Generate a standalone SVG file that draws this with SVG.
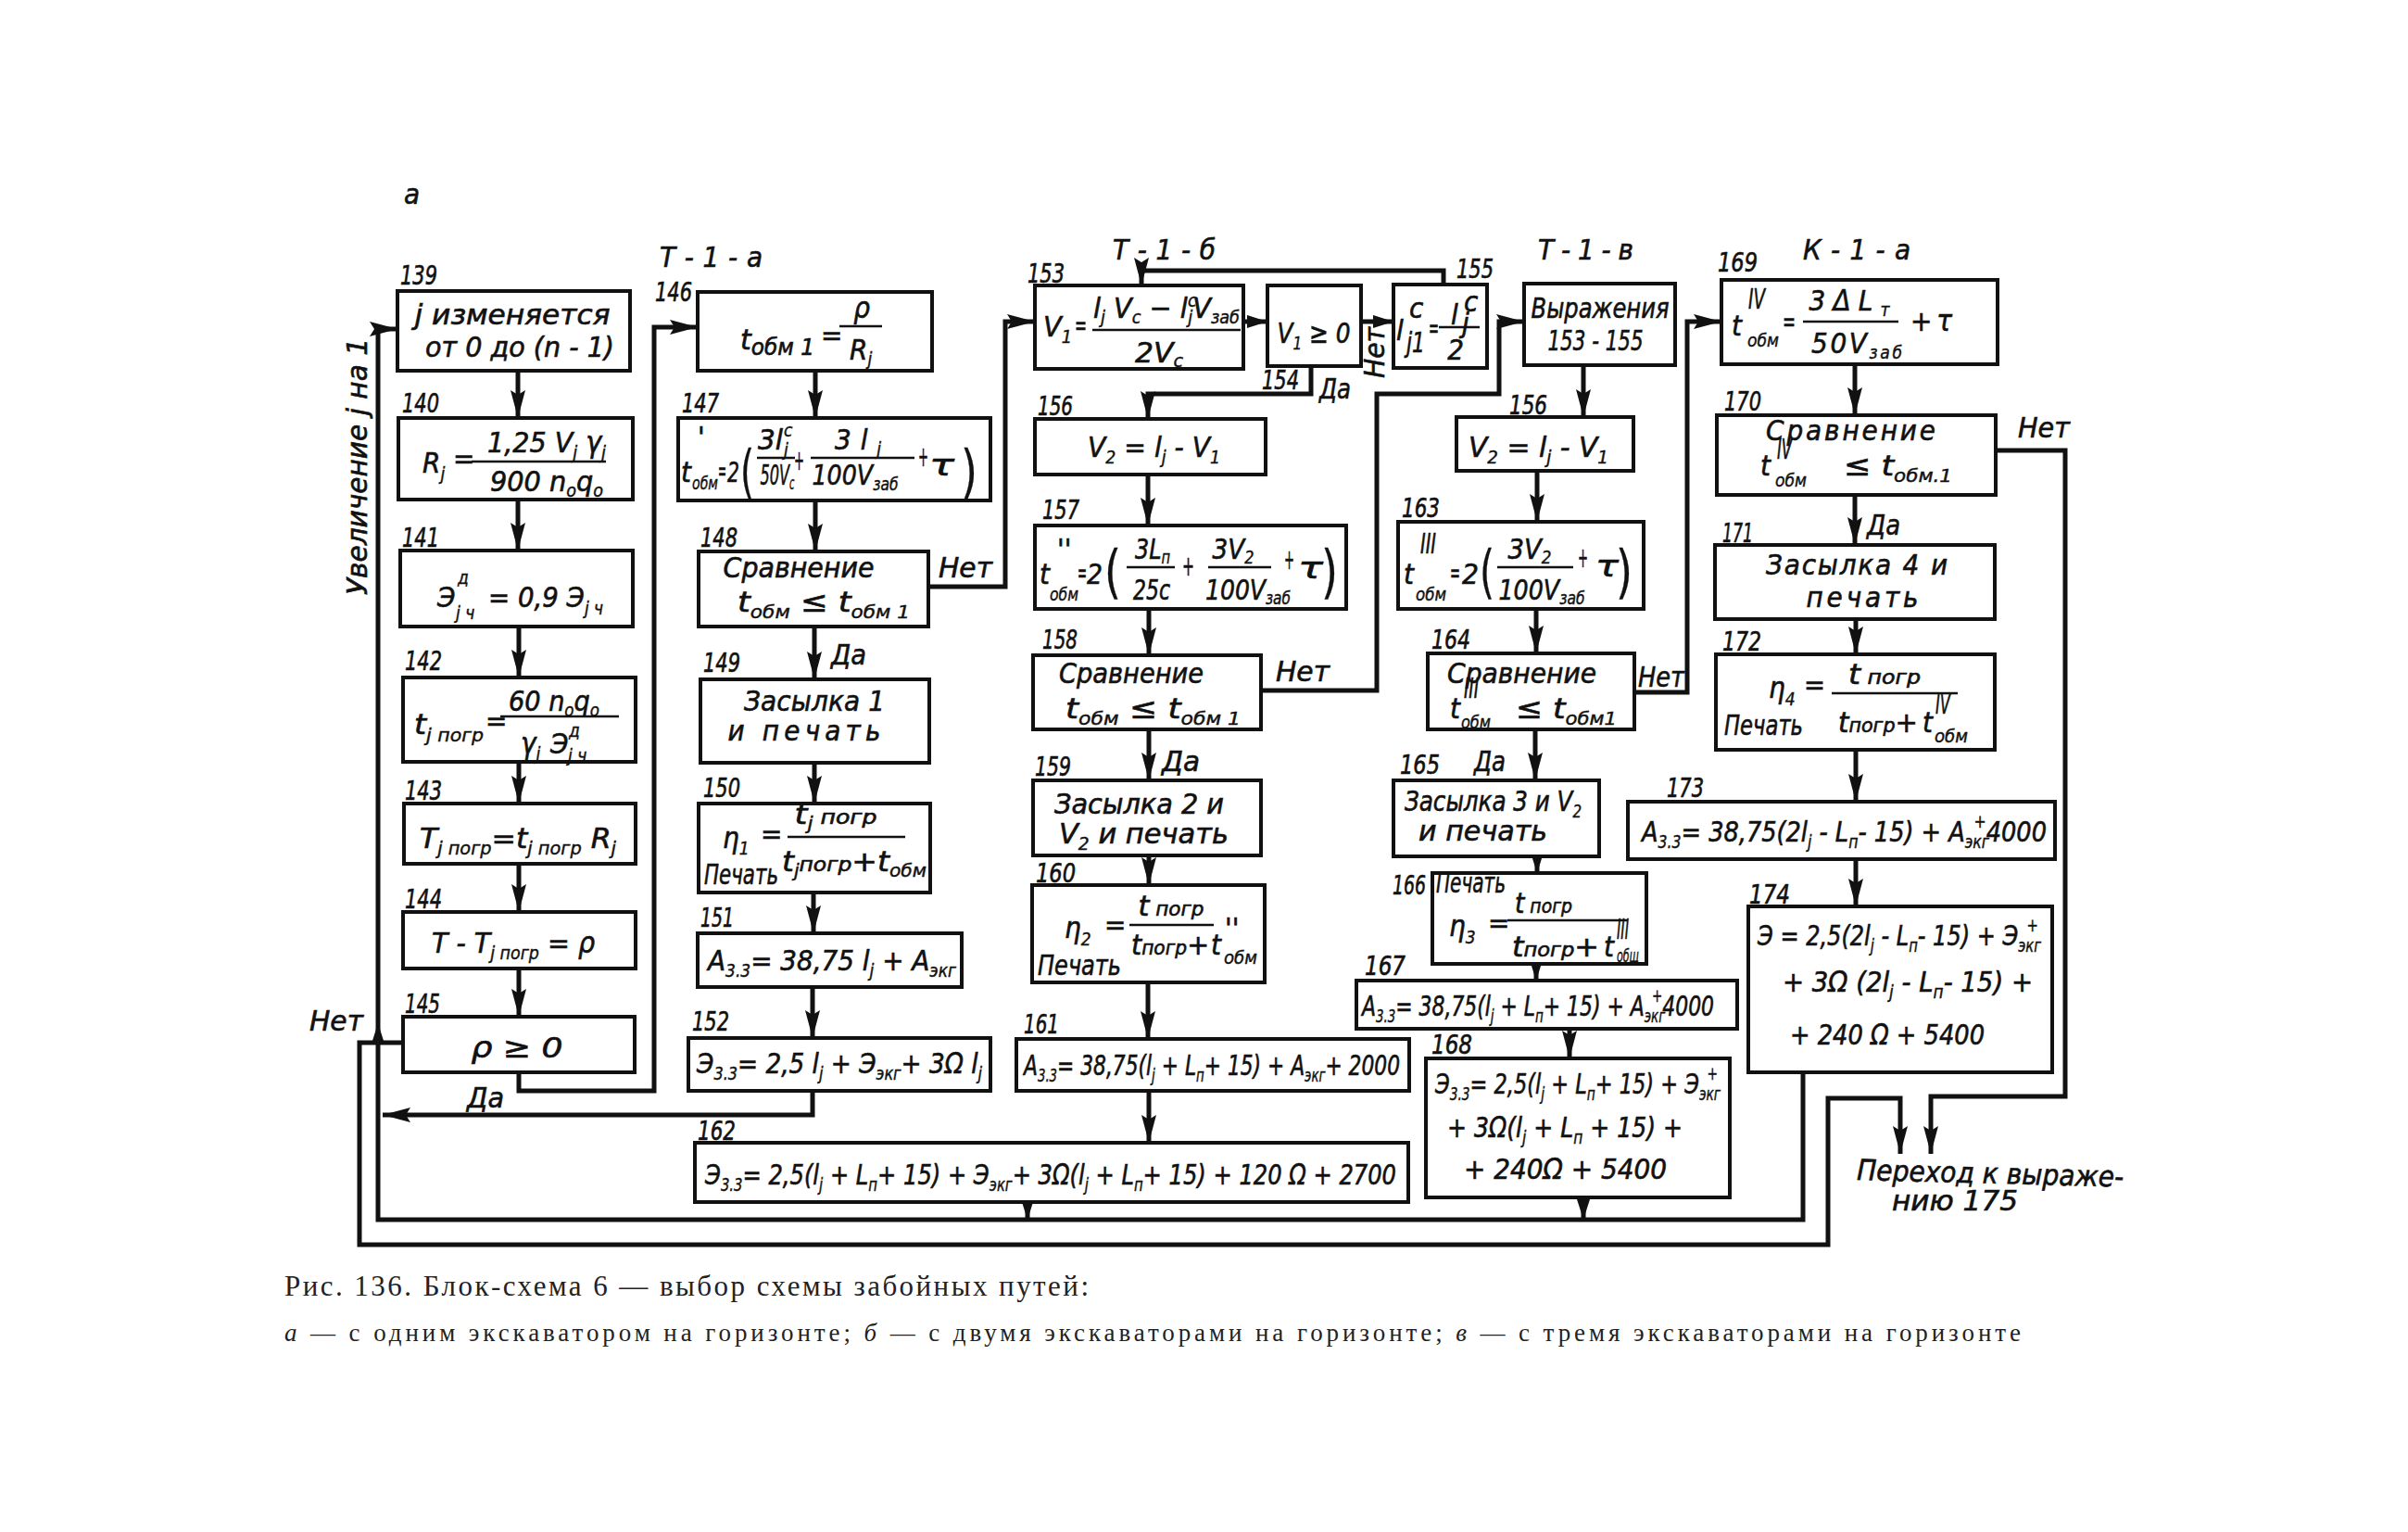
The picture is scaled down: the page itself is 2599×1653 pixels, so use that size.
<svg xmlns="http://www.w3.org/2000/svg" width="2599" height="1653" viewBox="0 0 2599 1653">
<defs>
<style>
.t{font-family:"DejaVu Sans Condensed","Liberation Sans Narrow","Liberation Sans",sans-serif;font-style:italic;font-size:31px;fill:#111;stroke:#111;stroke-width:0.6}
.s{font-size:19px;stroke-width:0.4}
.n{font-size:28px}
.m{text-anchor:middle}
.b{fill:#fff;stroke:#111;stroke-width:4}
.c{fill:none;stroke:#111;stroke-width:5}
.f{stroke:#111;stroke-width:2.5;fill:none}
.a{marker-end:url(#ah)}
.as{marker-end:url(#ahs)}
.p{font-size:62px;font-style:normal;stroke-width:0.3}
.cap{font-family:"Liberation Serif","DejaVu Serif",serif;fill:#222}
</style>
<marker id="ah" markerUnits="userSpaceOnUse" markerWidth="32" markerHeight="18" refX="30" refY="8" orient="auto"><path d="M0,0 L30,8 L0,16 L5,8 Z" fill="#111"/></marker>
<marker id="ahs" markerUnits="userSpaceOnUse" markerWidth="24" markerHeight="16" refX="22" refY="7" orient="auto"><path d="M0,0 L22,7 L0,14 Z" fill="#111"/></marker>
</defs>
<rect x="0" y="0" width="2599" height="1653" fill="#fff"/>

<g id="headers">
<text class="t" x="436" y="220" font-size="38">а</text>
<text class="t" x="712" y="288" textLength="111">Т - 1 - а</text>
<text class="t" x="1201" y="280" textLength="111">Т - 1 - б</text>
<text class="t" x="1660" y="280" textLength="103">Т - 1 - в</text>
<text class="t" x="1946" y="280" textLength="116">К - 1 - а</text>
<text class="t" transform="translate(396,642) rotate(-90)" font-size="30" textLength="277" lengthAdjust="spacingAndGlyphs">Увеличение j на 1</text>
</g>

<g id="connectors">
<path class="c a" d="M559,400V451"/>
<path class="c a" d="M559,539V594"/>
<path class="c a" d="M560,676V731"/>
<path class="c a" d="M560,822V867"/>
<path class="c a" d="M560,932V984"/>
<path class="c a" d="M560,1045V1097"/>
<path class="c a" d="M560,1157V1177H706V353H753"/>
<path class="c a" d="M435,1125H388V1343H1973V1185H2051V1245"/>
<path class="c a" d="M877,1177V1203H413"/>
<path class="c a" d="M1946,1157V1316H408V355H429"/>
<path class="c as" d="M1109,1297V1316"/>
<path class="c as" d="M1709,1292V1316"/>
<path d="M401,1126L408,1104L415,1126Z" fill="#111"/>
<path class="c a" d="M880,400V451"/>
<path class="c a" d="M880,540V595"/>
<path class="c a" d="M879,676V733"/>
<path class="c a" d="M879,823V867"/>
<path class="c a" d="M878,963V1007"/>
<path class="c a" d="M877,1065V1120"/>
<path class="c a" d="M1002,633H1085V347H1117"/>
<path class="c as" d="M1342,347H1368"/>
<path class="c as" d="M1469,347H1504"/>
<path class="c a" d="M1558,307V292H1232V308"/>
<path class="c a" d="M1415,395V425H1239V452"/>
<path class="c a" d="M1239,512V567"/>
<path class="c a" d="M1240,657V707"/>
<path class="c a" d="M1361,745H1486V425H1618V347H1645"/>
<path class="c a" d="M1240,787V842"/>
<path class="c a" d="M1240,923V955"/>
<path class="c a" d="M1239,1060V1121"/>
<path class="c a" d="M1240,1177V1233"/>
<path class="c a" d="M1709,394V450"/>
<path class="c a" d="M1659,508V563"/>
<path class="c a" d="M1658,657V705"/>
<path class="c a" d="M1657,787V842"/>
<path class="c as" d="M1659,924V942"/>
<path class="c as" d="M1658,1040V1058"/>
<path class="c a" d="M1694,1110V1142"/>
<path class="c a" d="M1764,747H1821V347H1858"/>
<path class="c a" d="M2002,393V448"/>
<path class="c a" d="M2002,534V588"/>
<path class="c a" d="M2003,668V706"/>
<path class="c a" d="M2003,809V865"/>
<path class="c a" d="M2003,927V978"/>
<path class="c a" d="M2154,486H2229V1183H2084V1245"/>
<text class="t" x="334" y="1112" font-size="28" textLength="58" lengthAdjust="spacingAndGlyphs">Нет</text>
<text class="t" x="504" y="1195" font-size="30" textLength="40" lengthAdjust="spacingAndGlyphs">Да</text>
<text class="t" x="1013" y="623" font-size="28" textLength="58" lengthAdjust="spacingAndGlyphs">Нет</text>
<text class="t" x="897" y="717" font-size="28" textLength="38" lengthAdjust="spacingAndGlyphs">Да</text>
<text class="t" transform="translate(1494,408) rotate(-90)" font-size="24" textLength="55" lengthAdjust="spacingAndGlyphs">Нет</text>
<text class="t" x="1424" y="430" font-size="28" textLength="34" lengthAdjust="spacingAndGlyphs">Да</text>
<text class="t" x="1377" y="735" font-size="28" textLength="58" lengthAdjust="spacingAndGlyphs">Нет</text>
<text class="t" x="1254" y="832" font-size="30" textLength="41" lengthAdjust="spacingAndGlyphs">Да</text>
<text class="t" x="1768" y="741" font-size="24" textLength="50" lengthAdjust="spacingAndGlyphs">Нет</text>
<text class="t" x="1591" y="832" font-size="28" textLength="34" lengthAdjust="spacingAndGlyphs">Да</text>
<text class="t" x="2178" y="472" font-size="28" textLength="56" lengthAdjust="spacingAndGlyphs">Нет</text>
<text class="t" x="2015" y="577" font-size="28" textLength="36" lengthAdjust="spacingAndGlyphs">Да</text>
</g>

<g id="n139">
<rect class="b" x="429" y="314" width="251" height="86"/>
<text class="t n" x="432" y="307" textLength="40" lengthAdjust="spacingAndGlyphs">139</text>
<text class="t m" x="553" y="350" font-size="29" textLength="211" lengthAdjust="spacingAndGlyphs">j изменяется</text>
<text class="t m" x="561" y="385" font-size="29" textLength="204" lengthAdjust="spacingAndGlyphs">от 0 до (n - 1)</text>
</g>

<g id="n140">
<rect class="b" x="430" y="451" width="253" height="88"/>
<text class="t n" x="434" y="445" textLength="40" lengthAdjust="spacingAndGlyphs">140</text>
<text class="t" x="456" y="510" font-size="34">R<tspan class="s" dy="8">j</tspan></text>
<text class="t" x="489" y="505">=</text>
<text class="t m" x="590" y="488" textLength="128" lengthAdjust="spacingAndGlyphs">1,25 V<tspan class="s" dy="7">j</tspan><tspan dy="-7"> γ</tspan><tspan class="s" dy="7">j</tspan></text>
<path class="f" d="M509,498H654"/>
<text class="t m" x="590" y="530" textLength="122" lengthAdjust="spacingAndGlyphs">900 n<tspan class="s" dy="6">o</tspan><tspan dy="-6">q</tspan><tspan class="s" dy="6">o</tspan></text>
</g>

<g id="n141">
<rect class="b" x="432" y="594" width="251" height="82"/>
<text class="t n" x="434" y="590" textLength="40" lengthAdjust="spacingAndGlyphs">141</text>
<text class="t" x="472" y="655" font-size="32">Э</text>
<text class="t s" x="494" y="630">д</text>
<text class="t s" x="492" y="668">j ч</text>
<text class="t" x="527" y="655" font-size="32" textLength="124" lengthAdjust="spacingAndGlyphs">= 0,9 Э<tspan class="s" dy="8">j ч</tspan></text>
</g>

<g id="n142">
<rect class="b" x="435" y="731" width="251" height="91"/>
<text class="t n" x="437" y="723" textLength="40" lengthAdjust="spacingAndGlyphs">142</text>
<text class="t" x="447" y="792" font-size="32" textLength="75" lengthAdjust="spacingAndGlyphs">t<tspan class="s" dy="8">j погр</tspan></text>
<text class="t" x="524" y="788">=</text>
<text class="t m" x="598" y="767" textLength="98" lengthAdjust="spacingAndGlyphs">60 n<tspan class="s" dy="6">o</tspan><tspan dy="-6">q</tspan><tspan class="s" dy="6">o</tspan></text>
<path class="f" d="M540,773H668"/>
<text class="t" x="562" y="813">γ<tspan class="s" dy="7">j</tspan></text>
<text class="t" x="594" y="813">Э</text>
<text class="t s" x="614" y="795">д</text>
<text class="t s" x="613" y="822">j ч</text>
</g>

<g id="n143">
<rect class="b" x="436" y="867" width="250" height="65"/>
<text class="t n" x="437" y="863" textLength="40" lengthAdjust="spacingAndGlyphs">143</text>
<text class="t" x="453" y="915" font-size="32" textLength="212" lengthAdjust="spacingAndGlyphs">T<tspan class="s" dy="7">j погр</tspan><tspan dy="-7">=t</tspan><tspan class="s" dy="7">j погр</tspan><tspan dy="-7"> R</tspan><tspan class="s" dy="7">j</tspan></text>
</g>

<g id="n144">
<rect class="b" x="435" y="984" width="251" height="61"/>
<text class="t n" x="437" y="980" textLength="40" lengthAdjust="spacingAndGlyphs">144</text>
<text class="t" x="466" y="1028" font-size="32" textLength="176" lengthAdjust="spacingAndGlyphs">T - T<tspan class="s" dy="7">j погр</tspan><tspan dy="-7"> = ρ</tspan></text>
</g>

<g id="n145">
<rect class="b" x="435" y="1097" width="250" height="60"/>
<text class="t n" x="437" y="1093" textLength="38" lengthAdjust="spacingAndGlyphs">145</text>
<text class="t m" x="558" y="1141" font-size="34" textLength="99" lengthAdjust="spacingAndGlyphs">ρ  ≥  0</text>
</g>

<g id="n146">
<rect class="b" x="753" y="315" width="253" height="85"/>
<text class="t n" x="707" y="325" textLength="40" lengthAdjust="spacingAndGlyphs">146</text>
<text class="t" x="799" y="377" font-size="40" textLength="80" lengthAdjust="spacingAndGlyphs">t<tspan font-size="24" dy="6">обм 1</tspan></text>
<text class="t" x="886" y="372">=</text>
<text class="t m" x="930" y="343" font-size="34">ρ</text>
<path class="f" d="M906,352H952"/>
<text class="t" x="917" y="388" font-size="32">R<tspan class="s" dy="6">j</tspan></text>
</g>

<g id="n147">
<rect class="b" x="732" y="451" width="337" height="89"/>
<text class="t n" x="736" y="445" textLength="40" lengthAdjust="spacingAndGlyphs">147</text>
<text class="t" x="735" y="520" font-size="34">t</text>
<text class="t" x="753" y="482" font-size="22">'</text>
<text class="t s" x="747" y="528" textLength="28" lengthAdjust="spacingAndGlyphs">обм</text>
<text class="t" x="775" y="518" font-size="20" textLength="9" lengthAdjust="spacingAndGlyphs">=</text>
<text class="t" x="785" y="520" textLength="13" lengthAdjust="spacingAndGlyphs">2</text>
<text class="t p" x="799" y="530" textLength="15" lengthAdjust="spacingAndGlyphs">(</text>
<text class="t" x="818" y="485" font-size="28" textLength="27" lengthAdjust="spacingAndGlyphs">3l</text>
<text class="t s" x="846" y="471" font-size="16">c</text>
<text class="t s" x="846" y="492" font-size="16">j</text>
<path class="f" d="M817,494H858"/>
<text class="t m" x="839" y="523" font-size="28" textLength="37" lengthAdjust="spacingAndGlyphs">50V<tspan class="s" dy="5">c</tspan></text>
<text class="t" x="857" y="507" font-size="22" textLength="11" lengthAdjust="spacingAndGlyphs">+</text>
<text class="t m" x="926" y="485" font-size="30" textLength="50" lengthAdjust="spacing">3l<tspan class="s" dy="6">j</tspan></text>
<path class="f" d="M875,494H987"/>
<text class="t m" x="923" y="523" font-size="28" textLength="93" lengthAdjust="spacingAndGlyphs">100V<tspan class="s" dy="6">заб</tspan></text>
<text class="t" x="991" y="503" font-size="22" textLength="11" lengthAdjust="spacingAndGlyphs">+</text>
<text class="t" x="1003" y="513" font-size="34" textLength="27" lengthAdjust="spacingAndGlyphs">τ</text>
<text class="t p" x="1037" y="530" textLength="18" lengthAdjust="spacingAndGlyphs">)</text>
</g>

<g id="n148">
<rect class="b" x="754" y="595" width="248" height="81"/>
<text class="t n" x="756" y="590" textLength="40" lengthAdjust="spacingAndGlyphs">148</text>
<text class="t m" x="862" y="623" font-size="29" textLength="163" lengthAdjust="spacingAndGlyphs">Сравнение</text>
<text class="t" x="796" y="660" font-size="32" textLength="186" lengthAdjust="spacingAndGlyphs">t<tspan class="s" dy="7">обм</tspan><tspan dy="-7"> ≤ t</tspan><tspan class="s" dy="7">обм 1</tspan></text>
</g>

<g id="n149">
<rect class="b" x="756" y="733" width="247" height="90"/>
<text class="t n" x="759" y="725" textLength="40" lengthAdjust="spacingAndGlyphs">149</text>
<text class="t m" x="879" y="767" font-size="29" textLength="152">Засылка 1</text>
<text class="t m" x="868" y="799" font-size="29" textLength="165">и печать</text>
</g>

<g id="n150">
<rect class="b" x="754" y="867" width="250" height="96"/>
<text class="t n" x="759" y="860" textLength="40" lengthAdjust="spacingAndGlyphs">150</text>
<text class="t" x="780" y="915" font-size="36">η<tspan class="s" dy="7">1</tspan></text>
<text class="t" x="821" y="910" font-size="26">=</text>
<text class="t m" x="902" y="889" textLength="89" lengthAdjust="spacingAndGlyphs">t<tspan class="s" dy="6">j</tspan><tspan dy="-6" font-size="22"> погр</tspan></text>
<path class="f" d="M850,903H977"/>
<text class="t" x="844" y="940" textLength="156" lengthAdjust="spacingAndGlyphs">t<tspan class="s" dy="6">j</tspan><tspan dy="-6" font-size="22">погр</tspan>+t<tspan class="s" dy="6">обм</tspan></text>
<text class="t" x="760" y="954" font-size="22" textLength="80" lengthAdjust="spacingAndGlyphs">Печать</text>
</g>

<g id="n151">
<rect class="b" x="753" y="1007" width="285" height="58"/>
<text class="t n" x="756" y="1000" textLength="36" lengthAdjust="spacingAndGlyphs">151</text>
<text class="t" x="764" y="1047" textLength="268" lengthAdjust="spacingAndGlyphs">A<tspan class="s" dy="7">3.3</tspan><tspan dy="-7">= 38,75 l</tspan><tspan class="s" dy="7">j</tspan><tspan dy="-7"> + A</tspan><tspan class="s" dy="7">экг</tspan></text>
</g>

<g id="n152">
<rect class="b" x="743" y="1120" width="326" height="57"/>
<text class="t n" x="747" y="1112" textLength="40" lengthAdjust="spacingAndGlyphs">152</text>
<text class="t" x="752" y="1158" textLength="308" lengthAdjust="spacingAndGlyphs">Э<tspan class="s" dy="7">3.3</tspan><tspan dy="-7">= 2,5 l</tspan><tspan class="s" dy="7">j</tspan><tspan dy="-7"> + Э</tspan><tspan class="s" dy="7">экг</tspan><tspan dy="-7">+ 3Ω l</tspan><tspan class="s" dy="7">j</tspan></text>
</g>

<g id="n153">
<rect class="b" x="1117" y="308" width="225" height="90"/>
<text class="t n" x="1109" y="305" textLength="40" lengthAdjust="spacingAndGlyphs">153</text>
<text class="t" x="1126" y="363" font-size="34" textLength="31" lengthAdjust="spacingAndGlyphs">V<tspan class="s" dy="7">1</tspan></text>
<text class="t" x="1160" y="361" font-size="24" textLength="13" lengthAdjust="spacingAndGlyphs">=</text>
<text class="t" x="1180" y="343" textLength="158" lengthAdjust="spacingAndGlyphs">l<tspan class="s" dy="6">j</tspan><tspan dy="-6"> V</tspan><tspan class="s" dy="6">c</tspan><tspan dy="-6"> − l</tspan><tspan class="s" dy="-12">c</tspan><tspan class="s" dx="-9" dy="18">j</tspan><tspan dy="-6">V</tspan><tspan class="s" dy="6">заб</tspan></text>
<path class="f" d="M1179,356H1339"/>
<text class="t m" x="1251" y="391" textLength="52" lengthAdjust="spacingAndGlyphs">2V<tspan class="s" dy="5">c</tspan></text>
</g>

<g id="n154">
<rect class="b" x="1368" y="308" width="101" height="87"/>
<text class="t n" x="1362" y="420" textLength="40" lengthAdjust="spacingAndGlyphs">154</text>
<text class="t m" x="1418" y="370" font-size="34" textLength="79" lengthAdjust="spacingAndGlyphs">V<tspan class="s" dy="7">1</tspan><tspan dy="-7"> ≥ 0</tspan></text>
</g>

<g id="n155">
<rect class="b" x="1504" y="307" width="101" height="90"/>
<text class="t n" x="1572" y="300" textLength="40" lengthAdjust="spacingAndGlyphs">155</text>
<text class="t" x="1507" y="367" font-size="32">l</text>
<text class="t" x="1521" y="343" font-size="17">c</text>
<text class="t" x="1518" y="380" font-size="16" textLength="20" lengthAdjust="spacingAndGlyphs">j1</text>
<text class="t" x="1542" y="364" font-size="22" textLength="11" lengthAdjust="spacingAndGlyphs">=</text>
<text class="t" x="1566" y="350" font-size="28">l</text>
<text class="t" x="1580" y="336" font-size="15">c</text>
<text class="t" x="1578" y="359" font-size="13">j</text>
<path class="f" d="M1553,353H1597"/>
<text class="t m" x="1571" y="388">2</text>
</g>

<g id="n156">
<rect class="b" x="1117" y="452" width="249" height="60"/>
<text class="t n" x="1120" y="448" textLength="38" lengthAdjust="spacingAndGlyphs">156</text>
<text class="t" x="1174" y="493" font-size="34" textLength="143" lengthAdjust="spacingAndGlyphs">V<tspan class="s" dy="7">2</tspan><tspan dy="-7"> = l</tspan><tspan class="s" dy="7">j</tspan><tspan dy="-7"> - V</tspan><tspan class="s" dy="7">1</tspan></text>
</g>

<g id="n157">
<rect class="b" x="1117" y="567" width="336" height="90"/>
<text class="t n" x="1125" y="560" textLength="40" lengthAdjust="spacingAndGlyphs">157</text>
<text class="t" x="1122" y="630" font-size="34">t</text>
<text class="t" x="1141" y="603" font-size="20">''</text>
<text class="t s" x="1133" y="648" textLength="31" lengthAdjust="spacingAndGlyphs">обм</text>
<text class="t" x="1163" y="628" font-size="20" textLength="10" lengthAdjust="spacingAndGlyphs">=</text>
<text class="t" x="1173" y="630" textLength="17" lengthAdjust="spacingAndGlyphs">2</text>
<text class="t p" x="1192" y="638" textLength="18" lengthAdjust="spacingAndGlyphs">(</text>
<text class="t m" x="1244" y="603" font-size="28" textLength="38" lengthAdjust="spacingAndGlyphs">3L<tspan class="s" dy="5">п</tspan></text>
<path class="f" d="M1216,612H1268"/>
<text class="t m" x="1243" y="647" font-size="28" textLength="40" lengthAdjust="spacingAndGlyphs">25c</text>
<text class="t" x="1276" y="621" font-size="22" textLength="13" lengthAdjust="spacingAndGlyphs">+</text>
<text class="t m" x="1331" y="603" font-size="28" textLength="45" lengthAdjust="spacingAndGlyphs">3V<tspan class="s" dy="5">2</tspan></text>
<path class="f" d="M1304,612H1372"/>
<text class="t m" x="1347" y="647" font-size="28" textLength="92" lengthAdjust="spacingAndGlyphs">100V<tspan class="s" dy="5">заб</tspan></text>
<text class="t" x="1386" y="614" font-size="20" textLength="11" lengthAdjust="spacingAndGlyphs">+</text>
<text class="t" x="1401" y="624" font-size="34" textLength="27" lengthAdjust="spacingAndGlyphs">τ</text>
<text class="t p" x="1426" y="638" textLength="18" lengthAdjust="spacingAndGlyphs">)</text>
</g>

<g id="n158">
<rect class="b" x="1115" y="707" width="246" height="80"/>
<text class="t n" x="1125" y="700" textLength="38" lengthAdjust="spacingAndGlyphs">158</text>
<text class="t" x="1143" y="737" font-size="29" textLength="156" lengthAdjust="spacingAndGlyphs">Сравнение</text>
<text class="t" x="1150" y="775" font-size="34" textLength="189" lengthAdjust="spacingAndGlyphs">t<tspan class="s" dy="7">обм</tspan><tspan dy="-7"> ≤ t</tspan><tspan class="s" dy="7">обм 1</tspan></text>
</g>

<g id="n159">
<rect class="b" x="1115" y="842" width="246" height="81"/>
<text class="t n" x="1117" y="837" textLength="39" lengthAdjust="spacingAndGlyphs">159</text>
<text class="t" x="1138" y="878" textLength="183" lengthAdjust="spacingAndGlyphs">Засылка 2 и</text>
<text class="t" x="1143" y="910" textLength="183" lengthAdjust="spacingAndGlyphs">V<tspan class="s" dy="7">2</tspan><tspan dy="-7"> и печать</tspan></text>
</g>

<g id="n160">
<rect class="b" x="1114" y="955" width="251" height="105"/>
<text class="t n" x="1118" y="952" textLength="43" lengthAdjust="spacingAndGlyphs">160</text>
<text class="t" x="1149" y="1012" font-size="36">η<tspan class="s" dy="8">2</tspan></text>
<text class="t" x="1192" y="1008" font-size="26">=</text>
<text class="t m" x="1264" y="988" textLength="71" lengthAdjust="spacingAndGlyphs">t<tspan font-size="22"> погр</tspan></text>
<path class="f" d="M1219,998H1310"/>
<text class="t" x="1221" y="1030" textLength="84" lengthAdjust="spacingAndGlyphs">t<tspan font-size="22">погр</tspan>+</text>
<text class="t" x="1307" y="1030">t</text>
<text class="t" x="1322" y="1012" font-size="18">''</text>
<text class="t s" x="1321" y="1040" textLength="36" lengthAdjust="spacingAndGlyphs">обм</text>
<text class="t" x="1120" y="1052" font-size="24" textLength="90" lengthAdjust="spacingAndGlyphs">Печать</text>
</g>

<g id="n161">
<rect class="b" x="1097" y="1121" width="424" height="56"/>
<text class="t n" x="1105" y="1115" textLength="38" lengthAdjust="spacingAndGlyphs">161</text>
<text class="t" x="1105" y="1160" textLength="406" lengthAdjust="spacingAndGlyphs">A<tspan class="s" dy="7">3.3</tspan><tspan dy="-7">= 38,75(l</tspan><tspan class="s" dy="7">j</tspan><tspan dy="-7"> + L</tspan><tspan class="s" dy="7">п</tspan><tspan dy="-7">+ 15) + A</tspan><tspan class="s" dy="7">экг</tspan><tspan dy="-7">+ 2000</tspan></text>
</g>

<g id="n162">
<rect class="b" x="750" y="1233" width="770" height="64"/>
<text class="t n" x="753" y="1230" textLength="41" lengthAdjust="spacingAndGlyphs">162</text>
<text class="t" x="761" y="1278" textLength="746" lengthAdjust="spacingAndGlyphs">Э<tspan class="s" dy="7">3.3</tspan><tspan dy="-7">= 2,5(l</tspan><tspan class="s" dy="7">j</tspan><tspan dy="-7"> + L</tspan><tspan class="s" dy="7">п</tspan><tspan dy="-7">+ 15) + Э</tspan><tspan class="s" dy="7">экг</tspan><tspan dy="-7">+ 3Ω(l</tspan><tspan class="s" dy="7">j</tspan><tspan dy="-7"> + L</tspan><tspan class="s" dy="7">п</tspan><tspan dy="-7">+ 15) + 120 Ω + 2700</tspan></text>
</g>

<g id="n153_155">
<rect class="b" x="1645" y="306" width="163" height="88"/>
<text class="t m" x="1727" y="343" font-size="28" textLength="149" lengthAdjust="spacingAndGlyphs">Выражения</text>
<text class="t m" x="1722" y="378" font-size="28" textLength="103" lengthAdjust="spacingAndGlyphs">153 - 155</text>
</g>

<g id="n156b">
<rect class="b" x="1572" y="450" width="191" height="58"/>
<text class="t n" x="1629" y="447" textLength="41" lengthAdjust="spacingAndGlyphs">156</text>
<text class="t" x="1585" y="493" font-size="34" textLength="151" lengthAdjust="spacingAndGlyphs">V<tspan class="s" dy="7">2</tspan><tspan dy="-7"> = l</tspan><tspan class="s" dy="7">j</tspan><tspan dy="-7"> - V</tspan><tspan class="s" dy="7">1</tspan></text>
</g>

<g id="n163">
<rect class="b" x="1509" y="563" width="265" height="94"/>
<text class="t n" x="1513" y="558" textLength="41" lengthAdjust="spacingAndGlyphs">163</text>
<text class="t" x="1515" y="630" font-size="34">t</text>
<text class="t" x="1533" y="597" font-size="15" textLength="17" lengthAdjust="spacingAndGlyphs">III</text>
<text class="t s" x="1528" y="648" textLength="33" lengthAdjust="spacingAndGlyphs">обм</text>
<text class="t" x="1565" y="628" font-size="20" textLength="11" lengthAdjust="spacingAndGlyphs">=</text>
<text class="t" x="1578" y="630" textLength="18" lengthAdjust="spacingAndGlyphs">2</text>
<text class="t p" x="1597" y="638" textLength="16" lengthAdjust="spacingAndGlyphs">(</text>
<text class="t m" x="1651" y="603" font-size="28" textLength="47" lengthAdjust="spacingAndGlyphs">3V<tspan class="s" dy="5">2</tspan></text>
<path class="f" d="M1616,612H1698"/>
<text class="t m" x="1664" y="647" font-size="28" textLength="93" lengthAdjust="spacingAndGlyphs">100V<tspan class="s" dy="5">заб</tspan></text>
<text class="t" x="1703" y="612" font-size="20" textLength="11" lengthAdjust="spacingAndGlyphs">+</text>
<text class="t" x="1722" y="622" font-size="34" textLength="25" lengthAdjust="spacingAndGlyphs">τ</text>
<text class="t p" x="1744" y="638" textLength="18" lengthAdjust="spacingAndGlyphs">)</text>
</g>

<g id="n164">
<rect class="b" x="1541" y="705" width="223" height="82"/>
<text class="t n" x="1545" y="700" textLength="42" lengthAdjust="spacingAndGlyphs">164</text>
<text class="t" x="1562" y="737" font-size="29" textLength="161" lengthAdjust="spacingAndGlyphs">Сравнение</text>
<text class="t" x="1565" y="775" font-size="34">t</text>
<text class="t" x="1580" y="753" font-size="15" textLength="16" lengthAdjust="spacingAndGlyphs">III</text>
<text class="t s" x="1577" y="786" textLength="32" lengthAdjust="spacingAndGlyphs">обм</text>
<text class="t" x="1636" y="775" font-size="34" textLength="109" lengthAdjust="spacingAndGlyphs">≤ t<tspan class="s" dy="7">обм1</tspan></text>
</g>

<g id="n165">
<rect class="b" x="1504" y="842" width="222" height="82"/>
<text class="t n" x="1511" y="835" textLength="43" lengthAdjust="spacingAndGlyphs">165</text>
<text class="t" x="1516" y="875" textLength="191" lengthAdjust="spacingAndGlyphs">Засылка 3 и V<tspan class="s" dy="7">2</tspan></text>
<text class="t" x="1531" y="907" textLength="139" lengthAdjust="spacingAndGlyphs">и печать</text>
</g>

<g id="n166">
<rect class="b" x="1546" y="942" width="231" height="98"/>
<text class="t n" x="1503" y="965" textLength="36" lengthAdjust="spacingAndGlyphs">166</text>
<text class="t" x="1550" y="963" font-size="24" textLength="75" lengthAdjust="spacingAndGlyphs">Печать</text>
<text class="t" x="1635" y="985" textLength="62" lengthAdjust="spacingAndGlyphs">t<tspan font-size="22"> погр</tspan></text>
<text class="t" x="1564" y="1010" font-size="36">η<tspan class="s" dy="8">3</tspan></text>
<text class="t" x="1606" y="1006" font-size="26">=</text>
<path class="f" d="M1627,993H1757"/>
<text class="t" x="1632" y="1032" textLength="94" lengthAdjust="spacingAndGlyphs">t<tspan font-size="22">погр</tspan>+</text>
<text class="t" x="1731" y="1032">t</text>
<text class="t" x="1745" y="1013" font-size="15" textLength="13" lengthAdjust="spacingAndGlyphs">III</text>
<text class="t s" x="1745" y="1038" textLength="24" lengthAdjust="spacingAndGlyphs">общ</text>
</g>

<g id="n167">
<rect class="b" x="1464" y="1058" width="411" height="52"/>
<text class="t n" x="1473" y="1052" textLength="44" lengthAdjust="spacingAndGlyphs">167</text>
<text class="t" x="1470" y="1096" font-size="29" textLength="380" lengthAdjust="spacingAndGlyphs">A<tspan class="s" dy="7">3.3</tspan><tspan dy="-7">= 38,75(l</tspan><tspan class="s" dy="7">j</tspan><tspan dy="-7"> + L</tspan><tspan class="s" dy="7">п</tspan><tspan dy="-7">+ 15) + A</tspan><tspan class="s" dy="7">экг</tspan><tspan class="s" dx="-18" dy="-22">+</tspan><tspan dy="15">4000</tspan></text>
</g>

<g id="n168">
<rect class="b" x="1539" y="1142" width="328" height="150"/>
<text class="t n" x="1545" y="1137" textLength="44" lengthAdjust="spacingAndGlyphs">168</text>
<text class="t" x="1549" y="1180" textLength="308" lengthAdjust="spacingAndGlyphs">Э<tspan class="s" dy="7">3.3</tspan><tspan dy="-7">= 2,5(l</tspan><tspan class="s" dy="7">j</tspan><tspan dy="-7"> + L</tspan><tspan class="s" dy="7">п</tspan><tspan dy="-7">+ 15) + Э</tspan><tspan class="s" dy="7">экг</tspan><tspan class="s" dx="-18" dy="-22">+</tspan></text>
<text class="t" x="1562" y="1227" textLength="254" lengthAdjust="spacingAndGlyphs">+ 3Ω(l<tspan class="s" dy="7">j</tspan><tspan dy="-7"> + L</tspan><tspan class="s" dy="7">п</tspan><tspan dy="-7"> + 15) +</tspan></text>
<text class="t" x="1580" y="1272" textLength="219" lengthAdjust="spacingAndGlyphs">+ 240Ω + 5400</text>
</g>

<g id="n169">
<rect class="b" x="1858" y="302" width="298" height="91"/>
<text class="t n" x="1854" y="293" textLength="43" lengthAdjust="spacingAndGlyphs">169</text>
<text class="t" x="1869" y="362" font-size="36">t</text>
<text class="t" x="1887" y="333" font-size="17" textLength="18" lengthAdjust="spacingAndGlyphs">IV</text>
<text class="t s" x="1886" y="374" textLength="34" lengthAdjust="spacingAndGlyphs">обм</text>
<text class="t" x="1924" y="357" font-size="24" textLength="14" lengthAdjust="spacingAndGlyphs">=</text>
<text class="t m" x="1996" y="335" textLength="87" lengthAdjust="spacing">3ΔL<tspan class="s" dy="6">т</tspan></text>
<path class="f" d="M1946,347H2049"/>
<text class="t m" x="2004" y="381" textLength="98" lengthAdjust="spacing">50V<tspan class="s" dy="6">заб</tspan></text>
<text class="t" x="2062" y="357" textLength="45" lengthAdjust="spacing">+ τ</text>
</g>

<g id="n170">
<rect class="b" x="1853" y="448" width="301" height="86"/>
<text class="t n" x="1861" y="443" textLength="40" lengthAdjust="spacingAndGlyphs">170</text>
<text class="t" x="1906" y="475" font-size="29" textLength="183">Сравнение</text>
<text class="t" x="1900" y="513" font-size="34">t</text>
<text class="t" x="1918" y="495" font-size="16" textLength="16" lengthAdjust="spacingAndGlyphs">IV</text>
<text class="t s" x="1916" y="525" textLength="34" lengthAdjust="spacingAndGlyphs">обм</text>
<text class="t" x="1990" y="513" font-size="32" textLength="117" lengthAdjust="spacingAndGlyphs">≤  t<tspan class="s" dy="7">обм.1</tspan></text>
</g>

<g id="n171">
<rect class="b" x="1851" y="588" width="302" height="80"/>
<text class="t n" x="1859" y="585" textLength="33" lengthAdjust="spacingAndGlyphs">171</text>
<text class="t m" x="2004" y="620" textLength="196">Засылка 4 и</text>
<text class="t m" x="2010" y="655" textLength="121">печать</text>
</g>

<g id="n172">
<rect class="b" x="1852" y="706" width="301" height="103"/>
<text class="t n" x="1859" y="702" textLength="42" lengthAdjust="spacingAndGlyphs">172</text>
<text class="t" x="1909" y="753" font-size="36">η<tspan class="s" dy="8">4</tspan></text>
<text class="t" x="1947" y="749" font-size="28" textLength="23" lengthAdjust="spacingAndGlyphs">=</text>
<text class="t m" x="2034" y="738" textLength="78" lengthAdjust="spacingAndGlyphs">t<tspan font-size="22"> погр</tspan></text>
<path class="f" d="M1977,748H2113"/>
<text class="t" x="1984" y="790" textLength="86" lengthAdjust="spacingAndGlyphs">t<tspan font-size="22">погр</tspan>+</text>
<text class="t" x="2075" y="790">t</text>
<text class="t" x="2089" y="770" font-size="16" textLength="16" lengthAdjust="spacingAndGlyphs">IV</text>
<text class="t s" x="2088" y="801" textLength="36" lengthAdjust="spacingAndGlyphs">обм</text>
<text class="t" x="1861" y="793" font-size="24" textLength="85" lengthAdjust="spacingAndGlyphs">Печать</text>
</g>

<g id="n173">
<rect class="b" x="1757" y="865" width="461" height="62"/>
<text class="t n" x="1799" y="860" textLength="40" lengthAdjust="spacingAndGlyphs">173</text>
<text class="t" x="1772" y="908" font-size="32" textLength="437" lengthAdjust="spacingAndGlyphs">A<tspan class="s" dy="7">3.3</tspan><tspan dy="-7">= 38,75(2l</tspan><tspan class="s" dy="7">j</tspan><tspan dy="-7"> - L</tspan><tspan class="s" dy="7">п</tspan><tspan dy="-7">- 15) + A</tspan><tspan class="s" dy="7">экг</tspan><tspan class="s" dx="-18" dy="-22">+</tspan><tspan dy="15">4000</tspan></text>
</g>

<g id="n174">
<rect class="b" x="1887" y="978" width="328" height="179"/>
<text class="t n" x="1888" y="975" textLength="44" lengthAdjust="spacingAndGlyphs">174</text>
<text class="t" x="1897" y="1020" textLength="306" lengthAdjust="spacingAndGlyphs">Э = 2,5(2l<tspan class="s" dy="7">j</tspan><tspan dy="-7"> - L</tspan><tspan class="s" dy="7">п</tspan><tspan dy="-7">- 15) + Э</tspan><tspan class="s" dy="7">экг</tspan><tspan class="s" dx="-18" dy="-22">+</tspan></text>
<text class="t" x="1924" y="1070" textLength="270" lengthAdjust="spacingAndGlyphs">+ 3Ω (2l<tspan class="s" dy="7">j</tspan><tspan dy="-7"> - L</tspan><tspan class="s" dy="7">п</tspan><tspan dy="-7">- 15) +</tspan></text>
<text class="t" x="1932" y="1127" textLength="210" lengthAdjust="spacingAndGlyphs">+ 240 Ω + 5400</text>
</g>

<g id="n175">
<text class="t" x="2004" y="1273" font-size="32" textLength="288" lengthAdjust="spacingAndGlyphs" transform="rotate(1.5 2004 1273)">Переход к выраже-</text>
<text class="t" x="2042" y="1306" font-size="32" textLength="136" lengthAdjust="spacingAndGlyphs">нию 175</text>
</g>

<g id="caption">
<text class="cap" x="307" y="1398" font-size="31" textLength="868" lengthAdjust="spacing">Рис. 136. Блок-схема 6 — выбор схемы забойных путей:</text>
<text class="cap" x="307" y="1447" font-size="27" textLength="1874" lengthAdjust="spacing"><tspan font-style="italic">а</tspan> — с одним экскаватором на горизонте; <tspan font-style="italic">б</tspan> — с двумя экскаваторами на горизонте; <tspan font-style="italic">в</tspan> — с тремя экскаваторами на горизонте</text>
</g>
</svg>
